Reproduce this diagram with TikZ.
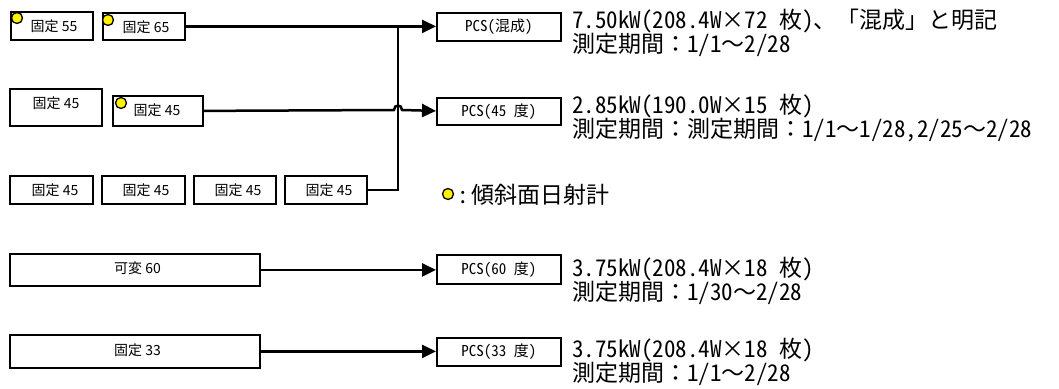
\documentclass[tikz,border=0pt]{standalone}
\usepackage{fontspec}
\setmainfont{Noto Sans CJK JP}
\newfontfamily\hw[RawFeature=+hwid]{Noto Sans CJK JP}
\newcommand\hwt[1]{{\hw #1}}
\usetikzlibrary{arrows.meta}
\begin{document}
\begin{tikzpicture}[x=1pt,y=-1pt,
  pbox/.style={draw, line width=1.8pt, inner sep=0pt, anchor=north west},
  blabel/.style={inner sep=0pt, font=\fontsize{14}{14}\selectfont},
  pcslabel/.style={inner sep=0pt, font=\fontsize{15}{15}\selectfont},
  info/.style={inner sep=0pt, anchor=west, align=left, font=\fontsize{23}{24}\selectfont},
  sensor/.style={circle, draw, fill=yellow, line width=1.3pt, minimum size=11pt, inner sep=0pt},
  conn/.style={line width=2.5pt},
  arr/.style={conn, -{Triangle[length=14pt,width=13pt]}}]
\useasboundingbox (0,0) rectangle (1059,388);

% row 1
\node[pbox, minimum width=82pt, minimum height=28pt] (b55) at (10,11) {};
\node[pbox, minimum width=82pt, minimum height=27pt] (b65) at (102,12) {};
\node[blabel] (t55) at (54,26) {固定 55};
\node[blabel] (t65) at (146,27) {固定 65};
\node[sensor] (s55) at (17,18) {};
\node[sensor] (s65) at (108,20) {};

% row 2
\node[pbox, minimum width=92pt, minimum height=37pt] (r2a) at (9,88) {};
\node[pbox, minimum width=90pt, minimum height=30pt] (r2b) at (112,95) {};
\node[blabel] (t2a) at (56,103) {固定 45};
\node[blabel] (t2b) at (157,110) {固定 45};
\node[sensor] (s2b) at (121,103) {};

% row 3
\node[pbox, minimum width=83pt, minimum height=28pt] (r3a) at (9,175) {};
\node[pbox, minimum width=83pt, minimum height=28pt] (r3b) at (101,175) {};
\node[pbox, minimum width=82pt, minimum height=28pt] (r3c) at (193,175) {};
\node[pbox, minimum width=82pt, minimum height=28pt] (r3d) at (284,175) {};
\node[blabel] (t3a) at (55,190) {固定 45};
\node[blabel] (t3b) at (146,190) {固定 45};
\node[blabel] (t3c) at (238,190) {固定 45};
\node[blabel] (t3d) at (329,190) {固定 45};

% rows 4, 5
\node[pbox, minimum width=250pt, minimum height=32pt] (v60) at (9,253) {};
\node[pbox, minimum width=250pt, minimum height=33pt] (f33) at (9,334) {};
\node[blabel] (tv60) at (137.5,268) {可変 60};
\node[blabel] (tf33) at (137.5,350) {固定 33};

% PCS boxes
\node[pbox, minimum width=124pt, minimum height=28pt] (pcs1) at (436,12) {};
\node[pbox, minimum width=124pt, minimum height=27pt] (pcs2) at (436,97) {};
\node[pbox, minimum width=124pt, minimum height=29pt] (pcs3) at (436,254) {};
\node[pbox, minimum width=124pt, minimum height=28pt] (pcs4) at (436,337) {};
\node[pcslabel] (tp1) at (pcs1.center) {\hwt{PCS(}混成\hwt{)}};
\node[pcslabel] (tp2) at (pcs2.center) {\hwt{PCS(45 }度\hwt{)}};
\node[pcslabel] (tp3) at (pcs3.center) {\hwt{PCS(60 }度\hwt{)}};
\node[pcslabel] (tp4) at (pcs4.center) {\hwt{PCS(33 }度\hwt{)}};

% info texts
\node[info] (i1) at (572,33) {\hwt{7.50kW(208.4W×72 }枚\hwt{)}、「混成」と明記\\測定期間：\hwt{1/1}～\hwt{2/28}};
\node[info] (i2) at (572,118.5) {\hwt{2.85kW(190.0W×15 }枚\hwt{)}\\測定期間：測定期間：\hwt{1/1}～\hwt{1/28,2/25}～\hwt{2/28}};
\node[info] (i3) at (572,281) {\hwt{3.75kW(208.4W×18 }枚\hwt{)}\\測定期間：\hwt{1/30}～\hwt{2/28}};
\node[info] (i4) at (572,362) {\hwt{3.75kW(208.4W×18 }枚\hwt{)}\\測定期間：\hwt{1/1}～\hwt{2/28}};

% legend
\node[sensor] (sl) at (448,194) {};
\node[inner sep=0pt, anchor=west, font=\fontsize{23}{24}\selectfont] (leg) at (457,195) {\hwt{:}\hspace{3pt}傾斜面日射計};

% connectors
\coordinate (J1) at (398,25.5);
\coordinate (h1) at (394,110);
\coordinate (h2) at (402,110);
\draw[arr] (b65.east) -- (b65.east -| pcs1.west);
\draw[conn] (r3d.east) -| (J1);
\draw[arr] (r2b.east) -- (h1) .. controls (394,104) and (402,104) .. (h2) -- (r2b.east -| pcs2.west);
\draw[arr] (v60.east) -- (v60.east -| pcs3.west);
\draw[arr] (f33.east) -- (f33.east -| pcs4.west);
\end{tikzpicture}
\end{document}
